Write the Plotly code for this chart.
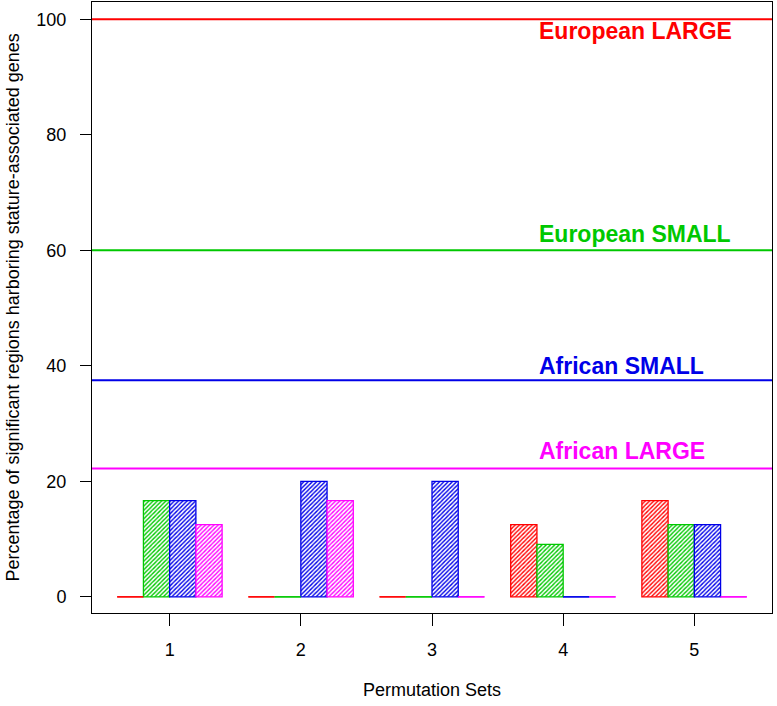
import plotly.graph_objects as go

# ---- data ----
sets = ["1", "2", "3", "4", "5"]
series_names = ["European LARGE", "European SMALL", "African SMALL", "African LARGE"]
series_colors = ["#FF0000", "#00C800", "#0000E8", "#FF00FF"]
values = {
    "European LARGE": [0, 0, 0, 12.5, 16.67],
    "European SMALL": [16.67, 0, 0, 9.09, 12.5],
    "African SMALL": [16.67, 20, 20, 0, 12.5],
    "African LARGE": [12.5, 16.67, 0, 0, 0],
}
ref_values = [100, 60, 37.5, 22.2]
label_y = [97.9, 62.8, 40.0, 25.2]

n_series = len(series_names)
group_step = n_series + 1  # one blank bar-width between groups

fig = go.Figure()

for i, (name, col) in enumerate(zip(series_names, series_colors)):
    xs = [group_step * g + 1.5 + i for g in range(len(sets))]
    ys = values[name]
    fig.add_trace(go.Bar(
        x=xs, y=ys, width=1.0, name=name,
        marker=dict(
            color="white",
            line=dict(color=col, width=1.3),
            pattern=dict(shape="/", fgcolor=col, bgcolor="white", size=3,
                         solidity=0.45, fillmode="replace"),
        ),
        showlegend=False, hoverinfo="skip",
    ))
    # zero-height bars drawn as their outline segment
    zx, zy = [], []
    for x, y in zip(xs, ys):
        if y == 0:
            zx += [x - 0.5, x + 0.5, None]
            zy += [0, 0, None]
    if zx:
        fig.add_trace(go.Scatter(x=zx, y=zy, mode="lines",
                                 line=dict(color=col, width=1.3),
                                 showlegend=False, hoverinfo="skip"))

# reference lines and labels
for name, col, rv, ly in zip(series_names, series_colors, ref_values, label_y):
    fig.add_shape(type="line", xref="paper", x0=0, x1=1, yref="y", y0=rv, y1=rv,
                  line=dict(color=col, width=2))
    fig.add_annotation(x=17.0, y=ly, xref="x", yref="y", text="<b>%s</b>" % name,
                       showarrow=False, xanchor="left", yanchor="middle",
                       font=dict(size=23, color=col, family="Liberation Sans, Arial"))

tickpos = [group_step * g + 3 for g in range(len(sets))]

fig.update_layout(
    width=777, height=706,
    margin=dict(l=92, r=5, t=2, b=93),
    paper_bgcolor="white", plot_bgcolor="white",
    barmode="overlay",
    font=dict(family="Liberation Sans, Arial", size=18, color="black"),
    xaxis=dict(range=[0.04, group_step * len(sets) + 0.96], tickvals=tickpos, ticktext=sets,
               showgrid=False, zeroline=False, showline=True, mirror=True,
               linecolor="black", linewidth=1, ticks="outside", ticklen=12,
               tickcolor="black", ticklabelstandoff=8, tickfont=dict(size=18)),
    yaxis=dict(range=[-2.8, 103.0], tickvals=[0, 20, 40, 60, 80, 100],
               showgrid=False, zeroline=False, showline=True, mirror=True,
               linecolor="black", linewidth=1, ticks="outside", ticklen=11,
               tickcolor="black", ticklabelstandoff=10, tickfont=dict(size=18)),
)

fig.add_annotation(text="Permutation Sets", xref="paper", yref="paper", x=0.5, y=0,
                   yshift=-77, showarrow=False, xanchor="center", yanchor="middle",
                   font=dict(size=18))
fig.add_annotation(text="Percentage of significant regions harboring stature-associated genes",
                   xref="paper", yref="paper", x=0, y=0.5, xshift=-80, textangle=-90,
                   showarrow=False, xanchor="center", yanchor="middle",
                   font=dict(size=18))

fig.write_html("out.html", config={"displayModeBar": False},
               post_script="document.body.style.margin='0';")
